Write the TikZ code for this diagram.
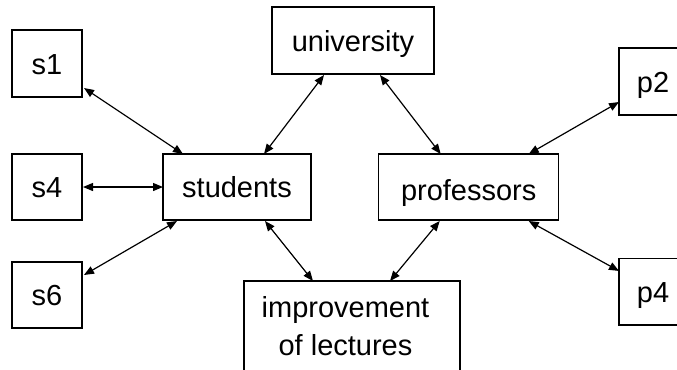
\documentclass[tikz,border=0pt]{standalone}
\usepackage{fontspec}
\setmainfont{Liberation Sans}
\usetikzlibrary{arrows.meta,calc}
\tikzset{
  box/.style={draw, line width=1.3bp, inner sep=0pt, outer sep=0pt,
    font=\fontsize{29bp}{38.3bp}\selectfont},
  oneline/.style={text height=21bp, text depth=0bp},
  link/.style={line width=1.2bp, {Triangle[length=10bp,width=8bp]}-{Triangle[length=10bp,width=8bp]}}
}
\begin{document}
\begin{tikzpicture}[x=1bp,y=-1bp]
\useasboundingbox (0,0) rectangle (677,369);
\node[box,oneline,minimum width=70bp,minimum height=67bp] (s1) at (47,63.5) {s1};
\node[box,oneline,minimum width=70bp,minimum height=66bp] (s4) at (47,187) {s4};
\node[box,oneline,minimum width=70bp,minimum height=66bp] (s6) at (47,295) {s6};
\node[box,oneline,minimum width=162bp,minimum height=67bp] (uni) at (353,40.5) {university};
\node[box,oneline,minimum width=148bp,minimum height=66bp] (stu) at (237,187) {students};
\node[box,oneline,minimum width=180bp,minimum height=66bp] (prof) at (468.7,187) {\raisebox{-3bp}{professors}};
\node[box,oneline,minimum width=68bp,minimum height=67bp] (p2) at (653,81.5) {p2};
\node[box,oneline,minimum width=68bp,minimum height=66.5bp] (p4) at (653,291.7) {p4};
\node[box,align=center,minimum width=216bp,minimum height=90bp] (imp) at (352,326) {improvement\hspace*{13bp}\\of lectures\hspace*{13bp}};

\draw[link] ($(s1.south east)+(2,-9)$) -- ($(stu.north west)+(20,0)$);
\draw[link] ($(uni.south west)+(52,1)$) -- ($(stu.north west)+(101,0)$);
\draw[link] ($(uni.south west)+(108,1)$) -- ($(prof.north west)+(62,0)$);
\draw[link] ($(p2.south west)+(0,-13)$) -- ($(prof.north west)+(150,0)$);
\draw[link] ($(s4.east)+(1,0)$) -- (stu.west);
\draw[link] ($(s6.north east)+(2,13)$) -- ($(stu.south west)+(14,1)$);
\draw[link] ($(stu.south west)+(102,1)$) -- ($(imp.north west)+(69,0)$);
\draw[link] ($(prof.south west)+(61,1)$) -- ($(imp.north west)+(146,0)$);
\draw[link] ($(prof.south west)+(150,1)$) -- ($(p4.north west)+(0,12.5)$);
\end{tikzpicture}
\end{document}
